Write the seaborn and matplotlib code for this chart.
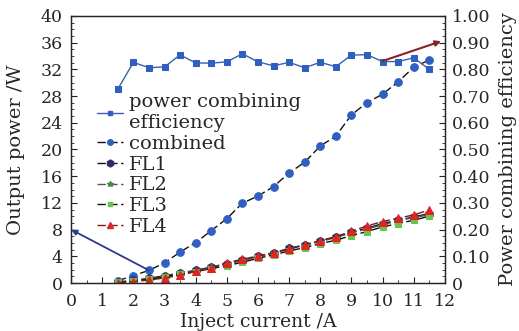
import numpy as np
import pandas as pd
import matplotlib
matplotlib.use("Agg")
import matplotlib.pyplot as plt
from matplotlib.ticker import MultipleLocator, FixedLocator, FixedFormatter
import seaborn as sns

current = [1.5, 2.0, 2.5, 3.0, 3.5, 4.0, 4.5, 5.0, 5.5, 6.0, 6.5, 7.0, 7.5,
           8.0, 8.5, 9.0, 9.5, 10.0, 10.5, 11.0, 11.5]
efficiency = [0.726, 0.826, 0.806, 0.809, 0.854, 0.824, 0.823, 0.828, 0.858,
              0.828, 0.813, 0.826, 0.806, 0.826, 0.810, 0.853, 0.855, 0.829,
              0.829, 0.843, 0.800]
combined = [0.35, 1.1, 1.9, 3.0, 4.64, 6.04, 7.84, 9.64, 11.94, 13.03, 14.43,
            16.48, 18.08, 20.52, 21.98, 25.17, 27.0, 28.27, 30.11, 32.3, 33.4]
fl1 = [0.15, 0.4, 0.7, 1.1, 1.5, 1.9, 2.4, 2.9, 3.4, 4.0, 4.5, 5.2, 5.7, 6.3,
       6.9, 7.6, 8.2, 8.9, 9.4, 9.9, 10.4]
fl2 = [0.1, 0.35, 0.65, 1.0, 1.45, 1.85, 2.35, 2.85, 3.35, 3.9, 4.45, 5.1,
       5.65, 6.2, 6.8, 7.5, 8.1, 8.7, 9.3, 9.8, 10.2]
fl3 = [0.1, 0.3, 0.55, 0.9, 1.3, 1.7, 2.15, 2.6, 3.1, 3.7, 4.2, 4.8, 5.3, 5.9,
       6.4, 7.1, 7.7, 8.4, 8.9, 9.4, 10.0]
fl4 = [0.05, 0.2, 0.45, 0.75, 1.15, 1.75, 2.25, 3.05, 3.55, 4.05, 4.55, 5.05,
       5.74, 6.34, 6.94, 7.74, 8.54, 9.2, 9.7, 10.2, 10.94]

labels = ["power combining\nefficiency", "combined", "FL1", "FL2", "FL3", "FL4"]
x_ticks = list(range(0, 13))
y_ticks = list(range(0, 41, 4))
y2_ticks = [0, 0.1, 0.2, 0.3, 0.4, 0.5, 0.6, 0.7, 0.8, 0.9, 1.0]
y2_labels = ["0", "0.10", "0.20", "0.30", "0.40", "0.50", "0.60", "0.70",
             "0.80", "0.90", "1.00"]

sns.set_style("ticks")
plt.rcParams["font.family"] = ["DejaVu Serif"]
plt.rcParams["mathtext.fontset"] = "dejavuserif"

fig = plt.figure(figsize=(5.19, 3.31), dpi=100)
ax = fig.add_axes([0.137, 0.145, 0.720, 0.807])
ax2 = ax.twinx()

df = pd.DataFrame({"x": current, "eff": efficiency, "combined": combined,
                   "FL1": fl1, "FL2": fl2, "FL3": fl3, "FL4": fl4})

dash = (0, (6, 2.5))
styles = [
    ("combined", "#111111", "o", "#2f5fc0", 5.5, 4.0),
    ("FL1", "#111111", "h", "#2b2d6a", 6, 5.0),
    ("FL2", "#555555", "*", "#3d8a3a", 5.5, 4.0),
    ("FL3", "#111111", "s", "#6cc24a", 5, 3.5),
    ("FL4", "#7a1a1a", "^", "#e02424", 6, 4.5),
]
handles = []
for col, lc, mk, mc, ms, lms in styles:
    sns.lineplot(data=df, x="x", y=col, ax=ax, color=lc, linestyle=dash,
                 linewidth=1.0, marker=mk, markersize=ms, markerfacecolor=mc,
                 markeredgecolor=mc, legend=False)
    handles.append(plt.Line2D([], [], color=lc, linestyle=dash,
                              linewidth=1.0, marker=mk, markersize=lms,
                              markerfacecolor=mc, markeredgecolor=mc))

sns.lineplot(data=df, x="x", y="eff", ax=ax2, color="#3a5fb0", linewidth=1.0,
             marker="s", markersize=5, markerfacecolor="#2f5fc0",
             markeredgecolor="#2f5fc0", legend=False)
h_eff = plt.Line2D([], [], color="#3a5fb0", linewidth=1.0, marker="s",
                   markersize=3.5, markerfacecolor="#2f5fc0",
                   markeredgecolor="#2f5fc0")

ax.set_xlim(0, 12)
ax.set_ylim(0, 40)
ax2.set_ylim(0, 1.0)
ax.xaxis.set_major_locator(FixedLocator(x_ticks))
ax.yaxis.set_major_locator(FixedLocator(y_ticks))
ax.xaxis.set_minor_locator(MultipleLocator(0.5))
ax.yaxis.set_minor_locator(MultipleLocator(1))
ax2.yaxis.set_major_locator(FixedLocator(y2_ticks))
ax2.yaxis.set_major_formatter(FixedFormatter(y2_labels))
ax2.yaxis.set_minor_locator(MultipleLocator(0.025))

for a in (ax, ax2):
    a.tick_params(which="both", direction="in", labelsize=12.5, color="#222222")
    a.tick_params(which="major", length=4)
    a.tick_params(which="minor", length=2.5)
    for s in a.spines.values():
        s.set_visible(True)
        s.set_linewidth(0.9)
ax.tick_params(axis="y", which="both", right=False, pad=6)
ax.tick_params(axis="x", which="both", top=False, pad=7)
ax2.tick_params(axis="y", pad=5)

ax.set_xlabel("Inject current /A", fontsize=13.5, labelpad=2)
ax.set_ylabel("Output power /W", fontsize=14, labelpad=11)
ax2.set_ylabel("Power combining efficiency", fontsize=14, labelpad=6)

# arrows
ax.annotate("", xy=(0.0, 8.0), xytext=(2.5, 1.9),
            arrowprops=dict(arrowstyle="-|>", color="#2e3a8c", lw=1.3,
                            mutation_scale=8, shrinkA=0, shrinkB=0),
            annotation_clip=False)
ax2.annotate("", xy=(11.88, 0.905), xytext=(10.0, 0.831),
             arrowprops=dict(arrowstyle="-|>", color="#8b2222", lw=1.5,
                             mutation_scale=8, shrinkA=0, shrinkB=0),
             annotation_clip=False)

leg = ax.legend([h_eff] + handles, labels, loc="upper left",
                bbox_to_anchor=(0.068, 0.71), frameon=False, fontsize=14,
                handlelength=1.35, handletextpad=0.3, labelspacing=0.14,
                borderaxespad=0, borderpad=0)

fig.savefig("out.png", dpi=100, facecolor="white")
